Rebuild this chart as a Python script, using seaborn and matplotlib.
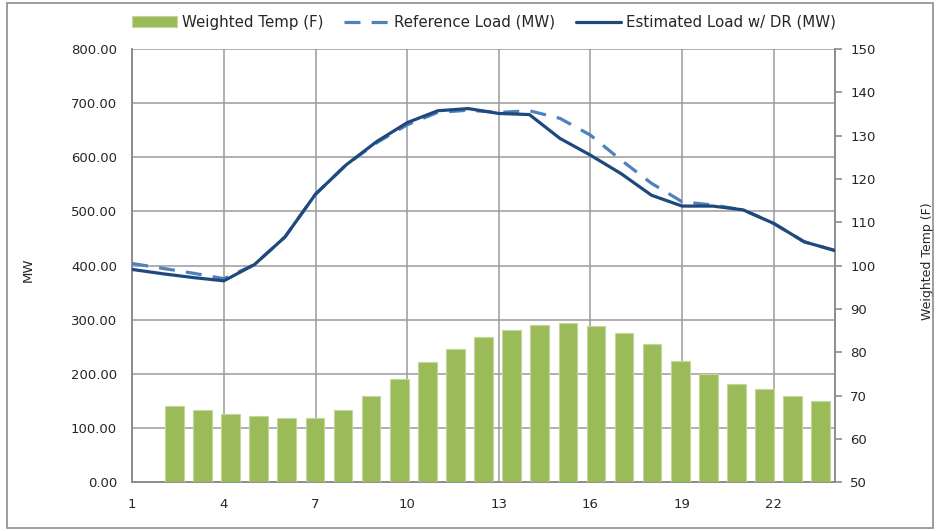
import matplotlib
matplotlib.use("Agg")
import matplotlib.pyplot as plt
from matplotlib.patches import Rectangle
from matplotlib.ticker import FormatStrFormatter, FixedLocator
import seaborn as sns

# Hourly data
hours = list(range(1, 25))
weighted_temp = [67.7, 66.8, 65.7, 65.3, 64.9, 64.9, 66.8, 70.0, 73.8, 77.8, 80.8, 83.6,
                 85.1, 86.3, 86.7, 86.0, 84.4, 82.0, 78.1, 75.0, 72.8, 71.5, 70.0, 68.8]
reference_load = [404, 395, 386, 376, 402, 453, 532, 586, 627, 660, 683, 687,
                  683, 686, 672, 641, 595, 552, 518, 512, 503, 478, 444, 428]
estimated_load = [393, 385, 378, 372, 402, 453, 532, 586, 629, 664, 686, 690,
                  681, 679, 635, 604, 570, 530, 510, 510, 503, 478, 444, 428]

mw_ticks = [0, 100, 200, 300, 400, 500, 600, 700, 800]
hour_ticks = [1, 4, 7, 10, 13, 16, 19, 22]
temp_ticks = [50, 60, 70, 80, 90, 100, 110, 120, 130, 140, 150]

GREEN = "#9BBB59"
LIGHT_BLUE = "#4F81BD"
DARK_BLUE = "#1F497D"
GRID = "#9a9a9a"
SPINE = "#8c8c8c"
TEXT = "#262626"

sns.set_style("white")
plt.rcParams["font.family"] = ["DejaVu Sans"]

fig = plt.figure(figsize=(9.38, 5.31), dpi=100)
rect = [0.141, 0.0917, 0.749, 0.816]

# MW axis: gridlines, left ticks, hour ticks
ax = fig.add_axes(rect)
ax.set_xlim(1, 24)
ax.set_ylim(0, 800)
ax.yaxis.set_major_locator(FixedLocator(mw_ticks))
ax.xaxis.set_major_locator(FixedLocator(hour_ticks))
ax.yaxis.set_major_formatter(FormatStrFormatter("%.2f"))
ax.grid(True, color=GRID, linewidth=1.1)
ax.tick_params(axis="both", length=0, labelsize=9.5, labelcolor=TEXT)
ax.tick_params(axis="y", pad=11)
ax.tick_params(axis="x", pad=11)
for side in ["top", "right"]:
    ax.spines[side].set_visible(False)
for side in ["left", "bottom"]:
    ax.spines[side].set_color(SPINE)
    ax.spines[side].set_linewidth(1.4)
ax.set_ylabel("MW", fontsize=9.5, color=TEXT)
ax.yaxis.set_label_coords(-0.1385, 0.49)

# Temperature columns on their own category axis
ax_bar = fig.add_axes(rect)
ax_bar.patch.set_visible(False)
sns.barplot(x=hours, y=weighted_temp, native_scale=True, width=0.665, color=GREEN,
            saturation=1, errorbar=None, edgecolor="#c3d79c", linewidth=0.8,
            label="Weighted Temp (F)", legend=False, ax=ax_bar)
ax_bar.set_xlim(-0.5, 24.5)
ax_bar.set_ylim(50, 150)
ax_bar.yaxis.set_major_locator(FixedLocator(temp_ticks))
ax_bar.yaxis.tick_right()
ax_bar.yaxis.set_label_position("right")
ax_bar.tick_params(axis="x", bottom=False, labelbottom=False)
ax_bar.tick_params(axis="y", right=True, length=5, width=1.2, color=SPINE, pad=6,
                   labelsize=9.5, labelcolor=TEXT)
ax_bar.set_xlabel("")
for side in ["top", "left", "bottom"]:
    ax_bar.spines[side].set_visible(False)
ax_bar.spines["right"].set_color(SPINE)
ax_bar.spines["right"].set_linewidth(1.4)
ax_bar.set_ylabel("Weighted Temp (F)", fontsize=9, color=TEXT)
ax_bar.yaxis.set_label_coords(1.122, 0.51)
if ax_bar.get_legend() is not None:
    ax_bar.get_legend().remove()

# Load curves on top
ax_line = fig.add_axes(rect, sharex=ax, sharey=ax)
ax_line.patch.set_visible(False)
sns.lineplot(x=hours, y=reference_load, color=LIGHT_BLUE, linewidth=2.3,
             linestyle=(0, (5, 3.5)), label="Reference Load (MW)", legend=False, ax=ax_line)
sns.lineplot(x=hours, y=estimated_load, color=DARK_BLUE, linewidth=2.3,
             solid_joinstyle="round", label="Estimated Load w/ DR (MW)", legend=False,
             ax=ax_line)
ax_line.axis("off")

h_bar, l_bar = ax_bar.get_legend_handles_labels()
h_line, l_line = ax_line.get_legend_handles_labels()
fig.legend(h_bar + h_line, l_bar + l_line, loc="center", ncol=3,
           bbox_to_anchor=(0.516, 0.958), frameon=False, fontsize=10.8,
           handlelength=3.0, handletextpad=0.3, columnspacing=1.4, labelcolor=TEXT)

# Chart-area border
fig.add_artist(Rectangle((0.0075, 0.006), 0.987, 0.988, transform=fig.transFigure,
                         fill=False, edgecolor=SPINE, linewidth=1.2))

fig.savefig("out.png", dpi=100)
